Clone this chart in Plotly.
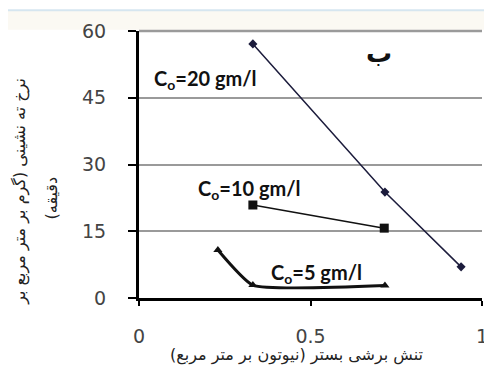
import plotly.graph_objects as go

x20 = [0.332, 0.717, 0.939]
y20 = [57.1, 23.8, 7.0]
x10 = [0.332, 0.715]
y10 = [20.9, 15.7]
x5 = [0.23, 0.332, 0.717]
y5 = [10.8, 2.9, 2.8]

xticks = [0, 0.5, 1]
yticks = [0, 15, 30, 45, 60]

fig = go.Figure()
fig.add_trace(go.Scatter(x=x20, y=y20, mode="lines+markers",
                         line=dict(color="#1c1c3c", width=1.5),
                         marker=dict(symbol="diamond", size=7, color="#1c1c3c")))
fig.add_trace(go.Scatter(x=x10, y=y10, mode="lines+markers",
                         line=dict(color="#111111", width=1.5),
                         marker=dict(symbol="square", size=9, color="#111111")))
fig.add_trace(go.Scatter(x=x5, y=y5, mode="lines+markers",
                         line=dict(color="#111111", width=3, shape="spline", smoothing=0.45),
                         marker=dict(symbol="triangle-up", size=8, color="#111111")))

lab_font = dict(family="Lato, Open Sans, sans-serif", size=20, color="#111111")
fig.add_annotation(x=0.038, y=49.0, xref="x", yref="y", text="<b>C<sub>o</sub>=20 gm/l</b>",
                   showarrow=False, xanchor="left", yanchor="middle", font=lab_font)
fig.add_annotation(x=0.166, y=24.3, xref="x", yref="y", text="<b>C<sub>o</sub>=10 gm/l</b>",
                   showarrow=False, xanchor="left", yanchor="middle", font=lab_font)
fig.add_annotation(x=0.378, y=5.6, xref="x", yref="y", text="<b>C<sub>o</sub>=5 gm/l</b>",
                   showarrow=False, xanchor="left", yanchor="middle", font=lab_font)
fig.add_annotation(x=0.70, y=55.0, xref="x", yref="y", text="<b>ب</b>",
                   showarrow=False, xanchor="center", yanchor="middle",
                   font=dict(family="DejaVu Sans", size=26, color="#111111"))

title_font = dict(family="DejaVu Sans", size=16, color="#222222")
fig.add_annotation(x=-0.345, y=0.40, xref="paper", yref="paper",
                   text="نرخ ته نشینی (گرم بر متر مربع بر",
                   textangle=-90, showarrow=False, xanchor="center", yanchor="middle",
                   font=title_font)
fig.add_annotation(x=-0.255, y=0.375, xref="paper", yref="paper",
                   text="(دقیقه",
                   textangle=-90, showarrow=False, xanchor="center", yanchor="middle",
                   font=title_font)
fig.add_annotation(x=0.46, y=-0.213, xref="paper", yref="paper",
                   text="تنش برشی بستر (نیوتون بر متر مربع)", showarrow=False,
                   xanchor="center", yanchor="middle", font=title_font)

tick_font = dict(family="DejaVu Sans", size=19, color="#444444")
fig.update_layout(
    width=492, height=373,
    margin=dict(l=131, r=18, t=23, b=83),
    paper_bgcolor="white", plot_bgcolor="white",
    showlegend=False,
    xaxis=dict(range=[0, 1], tickvals=xticks, ticktext=["0", "0.5", "1"], automargin=False,
               showgrid=False, zeroline=False, showline=True, linecolor="black", linewidth=3,
               ticks="outside", ticklen=5, tickwidth=2, tickcolor="black",
               tickfont=tick_font, ticklabelstandoff=14),
    yaxis=dict(range=[0, 60], tickvals=yticks, automargin=False,
               showgrid=True, gridcolor="#9a9a9a", gridwidth=1.5, zeroline=False,
               showline=True, linecolor="black", linewidth=3,
               ticks="outside", ticklen=8, tickwidth=2, tickcolor="black",
               tickfont=tick_font, ticklabelstandoff=18),
)
# faint header band above the chart
fig.add_shape(type="rect", xref="paper", yref="paper", x0=-0.4, x1=1.1, y0=1.005, y1=1.075,
              fillcolor="#fbf9f3", line=dict(width=0), layer="below")
fig.add_shape(type="line", xref="paper", yref="paper", x0=-0.4, x1=1.1, y0=1.078, y1=1.078,
              line=dict(color="#d6e6f0", width=2))
fig.add_shape(type="line", xref="paper", yref="paper", x0=0, x1=1, y0=1, y1=1,
              line=dict(color="#9a9a9a", width=2.5))

fig.write_html("out.html")
